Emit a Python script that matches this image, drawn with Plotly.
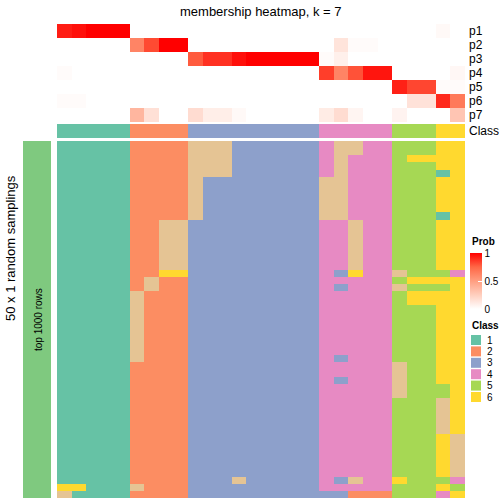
import plotly.graph_objects as go

# ---------------- data ----------------
ROW_LABELS = ["p1", "p2", "p3", "p4", "p5", "p6", "p7"]

PROB_P1 = [0.93, 0.96, 1, 1, 1, 0, 0, 0, 0, 0, 0, 0, 0, 0, 0, 0, 0, 0, 0, 0, 0, 0, 0, 0, 0, 0, 0.03, 0]
PROB_P2 = [0, 0, 0, 0, 0, 0.62, 0.82, 1, 1, 0, 0, 0, 0, 0, 0, 0, 0, 0, 0, 0.14, 0.02, 0.02, 0, 0, 0, 0, 0, 0]
PROB_P3 = [0, 0, 0, 0, 0, 0, 0, 0, 0, 0.78, 0.88, 0.88, 0.96, 1, 1, 1, 1, 1, 0.02, 0.08, 0, 0, 0, 0, 0, 0, 0, 0]
PROB_P4 = [0.02, 0, 0, 0, 0, 0, 0, 0, 0, 0, 0, 0, 0, 0, 0, 0, 0, 0, 0.85, 0.62, 0.8, 0.95, 0.95, 0, 0, 0, 0, 0.04]
PROB_P5 = [0, 0, 0, 0, 0, 0, 0, 0, 0, 0, 0, 0, 0, 0, 0, 0, 0, 0, 0, 0, 0, 0, 0, 0.92, 0.83, 0.83, 0.02, 0.02]
PROB_P6 = [0.02, 0.02, 0, 0, 0, 0, 0, 0, 0, 0, 0, 0, 0, 0, 0, 0, 0, 0, 0, 0, 0, 0, 0, 0, 0.15, 0.15, 0.9, 0.67]
PROB_P7 = [0, 0, 0, 0, 0, 0.38, 0.16, 0, 0, 0.18, 0.09, 0.09, 0.03, 0, 0, 0, 0, 0, 0.1, 0.18, 0.05, 0, 0, 0.06, 0, 0, 0, 0.3]

CLASS = [1, 1, 1, 1, 1, 2, 2, 2, 2, 3, 3, 3, 3, 3, 3, 3, 3, 3, 4, 4, 4, 4, 4, 5, 5, 5, 6, 6]

# class of each sample (columns) in each of the 50 random samplings (rows)
SAMPLINGS = [
    "11111 2222 777333333 47744 555 66",
    "11111 2222 777333333 47744 555 66",
    "11111 2222 777333333 47444 566 66",
    "11111 2222 777333333 47444 555 66",
    "11111 2222 777333333 47444 555 16",
    "11111 2222 733333333 77444 555 66",
    "11111 2222 733333333 77444 555 66",
    "11111 2222 733333333 77444 555 66",
    "11111 2222 733333333 77444 555 66",
    "11111 2222 733333333 77444 555 66",
    "11111 2222 733333333 77444 555 16",
    "11111 2277 333333333 44744 555 66",
    "11111 2277 333333333 44744 555 66",
    "11111 2277 333333333 44744 555 66",
    "11111 2277 333333333 44744 555 66",
    "11111 2277 333333333 44744 555 66",
    "11111 2277 333333333 44744 555 66",
    "11111 2277 333333333 44744 555 66",
    "11111 2266 333333333 43644 755 54",
    "11111 2722 333333333 44444 566 66",
    "11111 2722 333333333 43444 755 56",
    "11111 7222 333333333 44444 566 66",
    "11111 7222 333333333 44444 566 66",
    "11111 7222 333333333 44444 555 66",
    "11111 7222 333333333 44444 555 66",
    "11111 7222 333333333 44444 555 66",
    "11111 7222 333333333 44444 555 66",
    "11111 7222 333333333 44444 555 66",
    "11111 7222 333333333 44444 555 66",
    "11111 7222 333333333 44444 555 66",
    "11111 7222 333333333 43444 555 66",
    "11111 2222 333333333 44444 755 66",
    "11111 2222 333333333 44444 755 66",
    "11111 2222 333333333 43444 755 66",
    "11111 2222 333333333 44444 755 56",
    "11111 2222 333333333 44444 755 56",
    "11111 2222 333333333 44444 555 76",
    "11111 2222 333333333 44444 555 76",
    "11111 2222 333333333 44444 555 76",
    "11111 2222 333333333 44444 555 76",
    "11111 2222 333333333 44444 555 76",
    "11111 2222 333333333 44444 555 67",
    "11111 2222 333333333 44444 555 67",
    "11111 2222 333333333 44444 555 67",
    "11111 2222 333333333 44444 555 67",
    "11111 2222 333333333 44444 555 67",
    "11111 2222 333333333 44444 555 67",
    "11111 2222 333733333 43744 655 54",
    "66111 7222 333333333 44444 555 65",
    "71111 2222 333333333 33222 555 46",
]

CLASS_COLORS = ["#66C2A5", "#FC8D62", "#8DA0CB", "#E78AC3", "#A6D854", "#FFD92F", "#E5C494"]
LEGEND_CLASSES = ["1", "2", "3", "4", "5", "6"]
PROB_TICKS = [0, 0.5, 1]
PROB_TICKTEXT = ["0", "0.5", "1"]

# ---------------- layout helpers ----------------
W = H = 504


def px(x):
    return x / W


def py(y):
    return 1 - y / H


FONT = "Liberation Sans, Arial, sans-serif"

prob = [PROB_P1, PROB_P2, PROB_P3, PROB_P4, PROB_P5, PROB_P6, PROB_P7]
samp = [[int(ch) for ch in row.replace(" ", "")] for row in SAMPLINGS]
ncol = len(CLASS)
cols = list(range(ncol))

# discrete colour scale for classes 1..7
dscale = []
n = len(CLASS_COLORS)
for i, c in enumerate(CLASS_COLORS):
    dscale.append([i / n, c])
    dscale.append([(i + 1) / n, c])

prob_scale = [
    [0.0, "rgb(255,255,255)"],
    [0.25, "rgb(255,207,191)"],
    [0.5, "rgb(255,158,129)"],
    [0.75, "rgb(255,103,70)"],
    [1.0, "rgb(255,0,0)"],
]

fig = go.Figure()

# probability heatmap
fig.add_trace(go.Heatmap(
    z=prob, x=cols, y=list(range(len(ROW_LABELS))),
    colorscale=prob_scale, zmin=0, zmax=1,
    xaxis="x", yaxis="y",
    showscale=True,
    colorbar=dict(
        x=px(470), xanchor="left", xpad=0,
        y=py(281), yanchor="middle", ypad=0,
        lenmode="pixels", len=56, thickness=12,
        outlinewidth=0,
        tickvals=PROB_TICKS, ticktext=PROB_TICKTEXT,
        ticks="inside", ticklen=4, tickcolor="white",
        tickfont=dict(family=FONT, size=10, color="black"),
    ),
    hoverinfo="skip",
))

# class row
fig.add_trace(go.Heatmap(
    z=[CLASS], x=cols, y=[0],
    colorscale=dscale, zmin=0.5, zmax=7.5, showscale=False,
    xaxis="x", yaxis="y2", hoverinfo="skip",
))

# main samplings heatmap
fig.add_trace(go.Heatmap(
    z=samp, x=cols, y=list(range(len(samp))),
    colorscale=dscale, zmin=0.5, zmax=7.5, showscale=False,
    xaxis="x", yaxis="y3", hoverinfo="skip",
))

# left row annotation bar
fig.add_trace(go.Heatmap(
    z=[[1]], x=[0], y=[0],
    colorscale=[[0, "#7FC97F"], [1, "#7FC97F"]], showscale=False,
    xaxis="x2", yaxis="y4", hoverinfo="skip",
))

hidden = dict(showgrid=False, zeroline=False, showticklabels=False, ticks="", showline=False)

fig.update_layout(
    width=W, height=H,
    margin=dict(l=0, r=0, t=0, b=0),
    paper_bgcolor="white", plot_bgcolor="white",
    showlegend=False,
    xaxis=dict(domain=[px(57), px(465)], range=[-0.5, ncol - 0.5], anchor="y3", **hidden),
    yaxis=dict(domain=[py(122), py(24)], range=[6.5, -0.5], anchor="x", **hidden),
    yaxis2=dict(domain=[py(138), py(124)], range=[-0.5, 0.5], anchor="x", **hidden),
    yaxis3=dict(domain=[py(498), py(141)], range=[len(samp) - 0.5, -0.5], anchor="x", **hidden),
    xaxis2=dict(domain=[px(23), px(51)], range=[-0.5, 0.5], anchor="y4", **hidden),
    yaxis4=dict(domain=[py(498), py(141)], range=[-0.5, 0.5], anchor="x2", **hidden),
)

ann = []
ann.append(dict(text="membership heatmap, k = 7", x=px(261), y=py(11), xref="paper", yref="paper",
                showarrow=False, xanchor="center", yanchor="middle",
                font=dict(family=FONT, size=13, color="black")))
row_y = [31, 45, 59, 73, 87, 101, 115]
for lab, yy in zip(ROW_LABELS, row_y):
    ann.append(dict(text=lab, x=px(467), y=py(yy), xref="paper", yref="paper", showarrow=False,
                    xanchor="left", yanchor="middle", font=dict(family=FONT, size=12, color="black")))
ann.append(dict(text="Class", x=px(467), y=py(131), xref="paper", yref="paper", showarrow=False,
                xanchor="left", yanchor="middle", font=dict(family=FONT, size=12, color="black")))
ann.append(dict(text="50 x 1 random samplings", x=px(10), y=py(248), xref="paper", yref="paper",
                showarrow=False, textangle=-90, xanchor="center", yanchor="middle",
                font=dict(family=FONT, size=13, color="black")))
ann.append(dict(text="top 1000 rows", x=px(38), y=py(320), xref="paper", yref="paper",
                showarrow=False, textangle=-90, xanchor="center", yanchor="middle",
                font=dict(family=FONT, size=10, color="black")))
ann.append(dict(text="<b>Prob</b>", x=px(470), y=py(241), xref="paper", yref="paper",
                showarrow=False, xanchor="left", yanchor="middle",
                font=dict(family=FONT, size=10, color="black")))
ann.append(dict(text="<b>Class</b>", x=px(470), y=py(325), xref="paper", yref="paper",
                showarrow=False, xanchor="left", yanchor="middle",
                font=dict(family=FONT, size=10, color="black")))

shapes = []
for i, lab in enumerate(LEGEND_CLASSES):
    top = 335 + i * 11.4
    shapes.append(dict(type="rect", xref="paper", yref="paper",
                       x0=px(471), x1=px(481), y0=py(top + 10), y1=py(top),
                       fillcolor=CLASS_COLORS[i], line=dict(width=0)))
    ann.append(dict(text=lab, x=px(485), y=py(top + 5), xref="paper", yref="paper",
                    showarrow=False, xanchor="left", yanchor="middle",
                    font=dict(family=FONT, size=10, color="black")))

fig.update_layout(annotations=ann, shapes=shapes)

fig.write_html(
    "out.html",
    config={"displayModeBar": False},
    post_script="document.body.style.margin='0px';document.body.style.padding='0px';"
                "document.documentElement.style.overflow='hidden';",
)
